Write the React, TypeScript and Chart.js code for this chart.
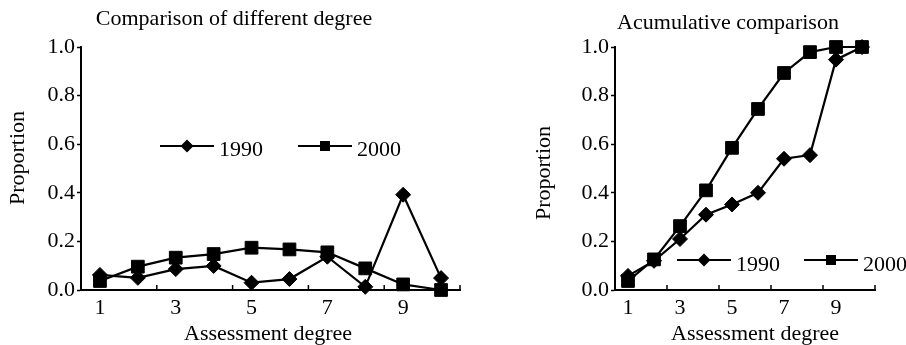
import React, { useEffect, useRef } from "react";
import { Chart, registerables } from "chart.js";

Chart.register(...registerables);

// ---------- data ----------
const categories = ["1", "2", "3", "4", "5", "6", "7", "8", "9", "10"];
const shownXLabels = ["1", "3", "5", "7", "9"];
const yTickValues = [0, 0.2, 0.4, 0.6, 0.8, 1.0];
const seriesNames = ["1990", "2000"];

const diff1990 = [0.062, 0.05, 0.086, 0.099, 0.03, 0.045, 0.137, 0.013, 0.392, 0.049];
const diff2000 = [0.037, 0.096, 0.133, 0.148, 0.174, 0.167, 0.155, 0.089, 0.023, 0.0];

const cum1990 = [0.058, 0.12, 0.21, 0.31, 0.352, 0.4, 0.54, 0.555, 0.948, 1.0];
const cum2000 = [0.037, 0.126, 0.263, 0.41, 0.585, 0.745, 0.893, 0.979, 1.0, 1.0];

const leftTitle = "Comparison of different degree";
const rightTitle = "Acumulative comparison";
const xTitle = "Assessment degree";
const yTitle = "Proportion";

const FONT = '"Liberation Serif", "Times New Roman", serif';
const FS = 22;

function drawMarker(ctx: CanvasRenderingContext2D, style: string, x: number, y: number, r: number) {
  ctx.beginPath();
  if (style === "rectRot") {
    ctx.moveTo(x, y - r);
    ctx.lineTo(x + r, y);
    ctx.lineTo(x, y + r);
    ctx.lineTo(x - r, y);
    ctx.closePath();
  } else {
    ctx.rect(x - r, y - r, 2 * r, 2 * r);
  }
  ctx.fill();
}

const decorPlugin = {
  id: "decor",
  afterDraw(chart: any, _args: any, o: any) {
    const ctx: CanvasRenderingContext2D = chart.ctx;
    const area = chart.chartArea;
    const xs = chart.scales.x;
    ctx.save();
    // inward x tick marks at category boundaries (every second one)
    ctx.strokeStyle = "#000";
    ctx.lineWidth = 1.5;
    const step = xs.getPixelForValue(1) - xs.getPixelForValue(0);
    for (let i = 1; i < categories.length; i += 2) {
      const px = xs.getPixelForValue(i) + step / 2;
      ctx.beginPath();
      ctx.moveTo(px, area.bottom);
      ctx.lineTo(px, area.bottom - 5);
      ctx.stroke();
    }
    // texts
    ctx.fillStyle = "#000";
    ctx.font = `${FS}px ${FONT}`;
    ctx.textAlign = "center";
    ctx.textBaseline = "alphabetic";
    ctx.fillText(o.title, o.titleX, o.titleY);
    ctx.fillText(o.xTitle, o.xTitleX, o.xTitleY);
    ctx.save();
    ctx.translate(o.yTitleX, o.yTitleY);
    ctx.rotate(-Math.PI / 2);
    ctx.fillText(o.yTitle, 0, 0);
    ctx.restore();

    // legend
    if (o.legendBg) {
      ctx.fillStyle = "#fff";
      ctx.fillRect(o.legendBg[0], o.legendBg[1], o.legendBg[2], o.legendBg[3]);
    }
    ctx.fillStyle = "#000";
    ctx.textAlign = "left";
    chart.data.datasets.forEach((ds: any, i: number) => {
      const x0 = o.legendX[i];
      const ly = o.legendLineY;
      ctx.strokeStyle = "#000";
      ctx.lineWidth = 2.2;
      ctx.beginPath();
      ctx.moveTo(x0, ly);
      ctx.lineTo(x0 + o.legendLen, ly);
      ctx.stroke();
      drawMarker(ctx, ds.pointStyle, x0 + o.legendLen / 2, ly, ds.pointStyle === "rectRot" ? 6.5 : 5);
      ctx.fillText(ds.label, x0 + o.legendLen + 5, o.legendTextY);
    });
    ctx.restore();
  },
};

function makeConfig(d1990: number[], d2000: number[], L: any): any {
  return {
    type: "line",
    data: {
      labels: categories,
      datasets: [
        {
          label: seriesNames[0],
          data: d1990,
          borderColor: "#000",
          backgroundColor: "#000",
          borderWidth: 2.2,
          pointStyle: "rectRot",
          pointRadius: 7.5,
          pointBackgroundColor: "#000",
          pointBorderColor: "#000",
          pointBorderWidth: 1,
          tension: 0,
          clip: false,
        },
        {
          label: seriesNames[1],
          data: d2000,
          borderColor: "#000",
          backgroundColor: "#000",
          borderWidth: 2.2,
          pointStyle: "rect",
          pointRadius: 9,
          pointBackgroundColor: "#000",
          pointBorderColor: "#000",
          pointBorderWidth: 1,
          tension: 0,
          clip: false,
        },
      ],
    },
    options: {
      responsive: false,
      animation: false,
      devicePixelRatio: 1,
      layout: { padding: { left: 0, right: L.padRight, top: 47, bottom: 0 } },
      plugins: {
        legend: { display: false },
        title: { display: false },
        tooltip: { enabled: false },
        decor: L.decor,
      },
      scales: {
        x: {
          type: "category",
          offset: true,
          grid: { display: true, drawOnChartArea: false, drawTicks: false, color: "rgba(0,0,0,0)" },
          border: { display: true, color: "#000", width: 2 },
          ticks: {
            autoSkip: false,
            maxRotation: 0,
            padding: 5,
            color: "#000",
            font: { family: FONT, size: FS },
            callback: (_v: any, i: number) => (shownXLabels.includes(categories[i]) ? categories[i] : ""),
          },
          afterFit: (s: any) => {
            s.height = 55;
          },
        },
        y: {
          type: "linear",
          min: 0,
          max: 1,
          grid: {
            display: true,
            drawOnChartArea: false,
            drawTicks: true,
            tickLength: 4,
            tickColor: "#000",
            tickWidth: 1.5,
            color: "#000",
          },
          border: { display: true, color: "#000", width: 2 },
          ticks: {
            padding: 2,
            color: "#000",
            font: { family: FONT, size: FS },
            callback: (v: any) => Number(v).toFixed(1),
          },
          afterBuildTicks: (s: any) => {
            s.ticks = yTickValues.map((v) => ({ value: v }));
          },
          afterFit: (s: any) => {
            s.width = L.axisLeft;
          },
        },
      },
    },
    plugins: [decorPlugin],
  };
}

function ChartCanvas(props: { width: number; left: number; config: any }) {
  const ref = useRef<HTMLCanvasElement | null>(null);
  useEffect(() => {
    if (!ref.current) return;
    const c = new Chart(ref.current, props.config);
    return () => c.destroy();
  }, []);
  return (
    <canvas
      ref={ref}
      width={props.width}
      height={345}
      style={{ position: "absolute", left: props.left, top: 0, width: props.width, height: 345 }}
    />
  );
}

export default function App() {
  useEffect(() => {
    document.body.style.margin = "0";
    document.body.style.background = "#fff";
  }, []);

  const leftConfig = makeConfig(diff1990, diff2000, {
    padRight: 8,
    axisLeft: 81,
    decor: {
      title: leftTitle,
      titleX: 234,
      titleY: 25,
      xTitle,
      xTitleX: 268,
      xTitleY: 340,
      yTitle,
      yTitleX: 24,
      yTitleY: 158,
      legendX: [160, 298],
      legendLen: 54,
      legendLineY: 146,
      legendTextY: 156,
    },
  });

  const rightConfig = makeConfig(cum1990, cum2000, {
    padRight: 31,
    axisLeft: 145,
    decor: {
      title: rightTitle,
      titleX: 258,
      titleY: 29,
      xTitle,
      xTitleX: 285,
      xTitleY: 340,
      yTitle,
      yTitleX: 80,
      yTitleY: 173,
      legendX: [207, 334],
      legendLen: 54,
      legendLineY: 260,
      legendTextY: 271,
      legendBg: [200, 250, 236, 26],
    },
  });

  return (
    <div style={{ position: "relative", width: 906, height: 345, background: "#fff", overflow: "hidden" }}>
      <ChartCanvas width={470} left={0} config={leftConfig} />
      <ChartCanvas width={436} left={470} config={rightConfig} />
    </div>
  );
}
